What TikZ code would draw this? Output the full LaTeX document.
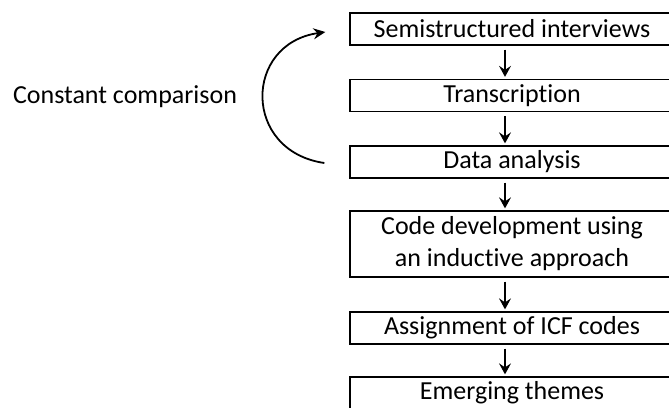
\documentclass[tikz,border=0pt]{standalone}
\usepackage{fontspec}
\setmainfont[Ligatures={NoCommon}]{Carlito}
\usetikzlibrary{arrows.meta,calc}
\begin{document}
\begin{tikzpicture}[x=1pt,y=-1pt,
  stepbox/.style={draw=black,line width=1.3pt,rectangle,minimum width=324pt,minimum height=32pt,
    inner sep=0pt,align=center,font=\fontsize{26}{32}\selectfont},
  flow/.style={line width=1.1pt,-{Stealth[length=11pt,width=12pt,inset=4pt]}},
  loop/.style={line width=1.8pt,-{Stealth[length=12pt,width=11pt,inset=4pt]}}]
\useasboundingbox (0,0) rectangle (669,407);
\clip (0,0) rectangle (669,407);
\node[stepbox] (b1) at (512,29) {Semistructured interviews};
\node[stepbox] (b2) at (512,95.5) {Transcription};
\node[stepbox] (b3) at (512,162) {Data analysis};
\node[stepbox,minimum height=66pt] (b4) at (512,244) {Code development using\\an inductive approach};
\node[stepbox] (b5) at (512,328) {Assignment of ICF codes};
\node[stepbox] (b6) at (512,393) {Emerging themes};
\node[font=\fontsize{26}{32}\selectfont,inner sep=0pt] (cc) at (125,97) {Constant comparison};
\draw[flow] ([xshift=-7pt,yshift=-4pt]b1.south) -- ([xshift=-7pt,yshift=2pt]b2.north);
\draw[flow] ([xshift=-7pt,yshift=-4pt]b2.south) -- ([xshift=-7pt,yshift=2pt]b3.north);
\draw[flow] ([xshift=-7pt,yshift=-4pt]b3.south) -- ([xshift=-7pt,yshift=2pt]b4.north);
\draw[flow] ([xshift=-7pt,yshift=-4pt]b4.south) -- ([xshift=-7pt,yshift=2pt]b5.north);
\draw[flow] ([xshift=-7pt,yshift=-4pt]b5.south) -- ([xshift=-7pt,yshift=2pt]b6.north);
\coordinate (ls) at ($(b3.west)+(-25,1)$);
\coordinate (le) at ($(b1.west)+(-24,3)$);
\draw[loop] (ls) .. controls ($(ls)+(-82,-12)$) and ($(le)+(-82,12)$) .. (le);
\end{tikzpicture}
\end{document}
